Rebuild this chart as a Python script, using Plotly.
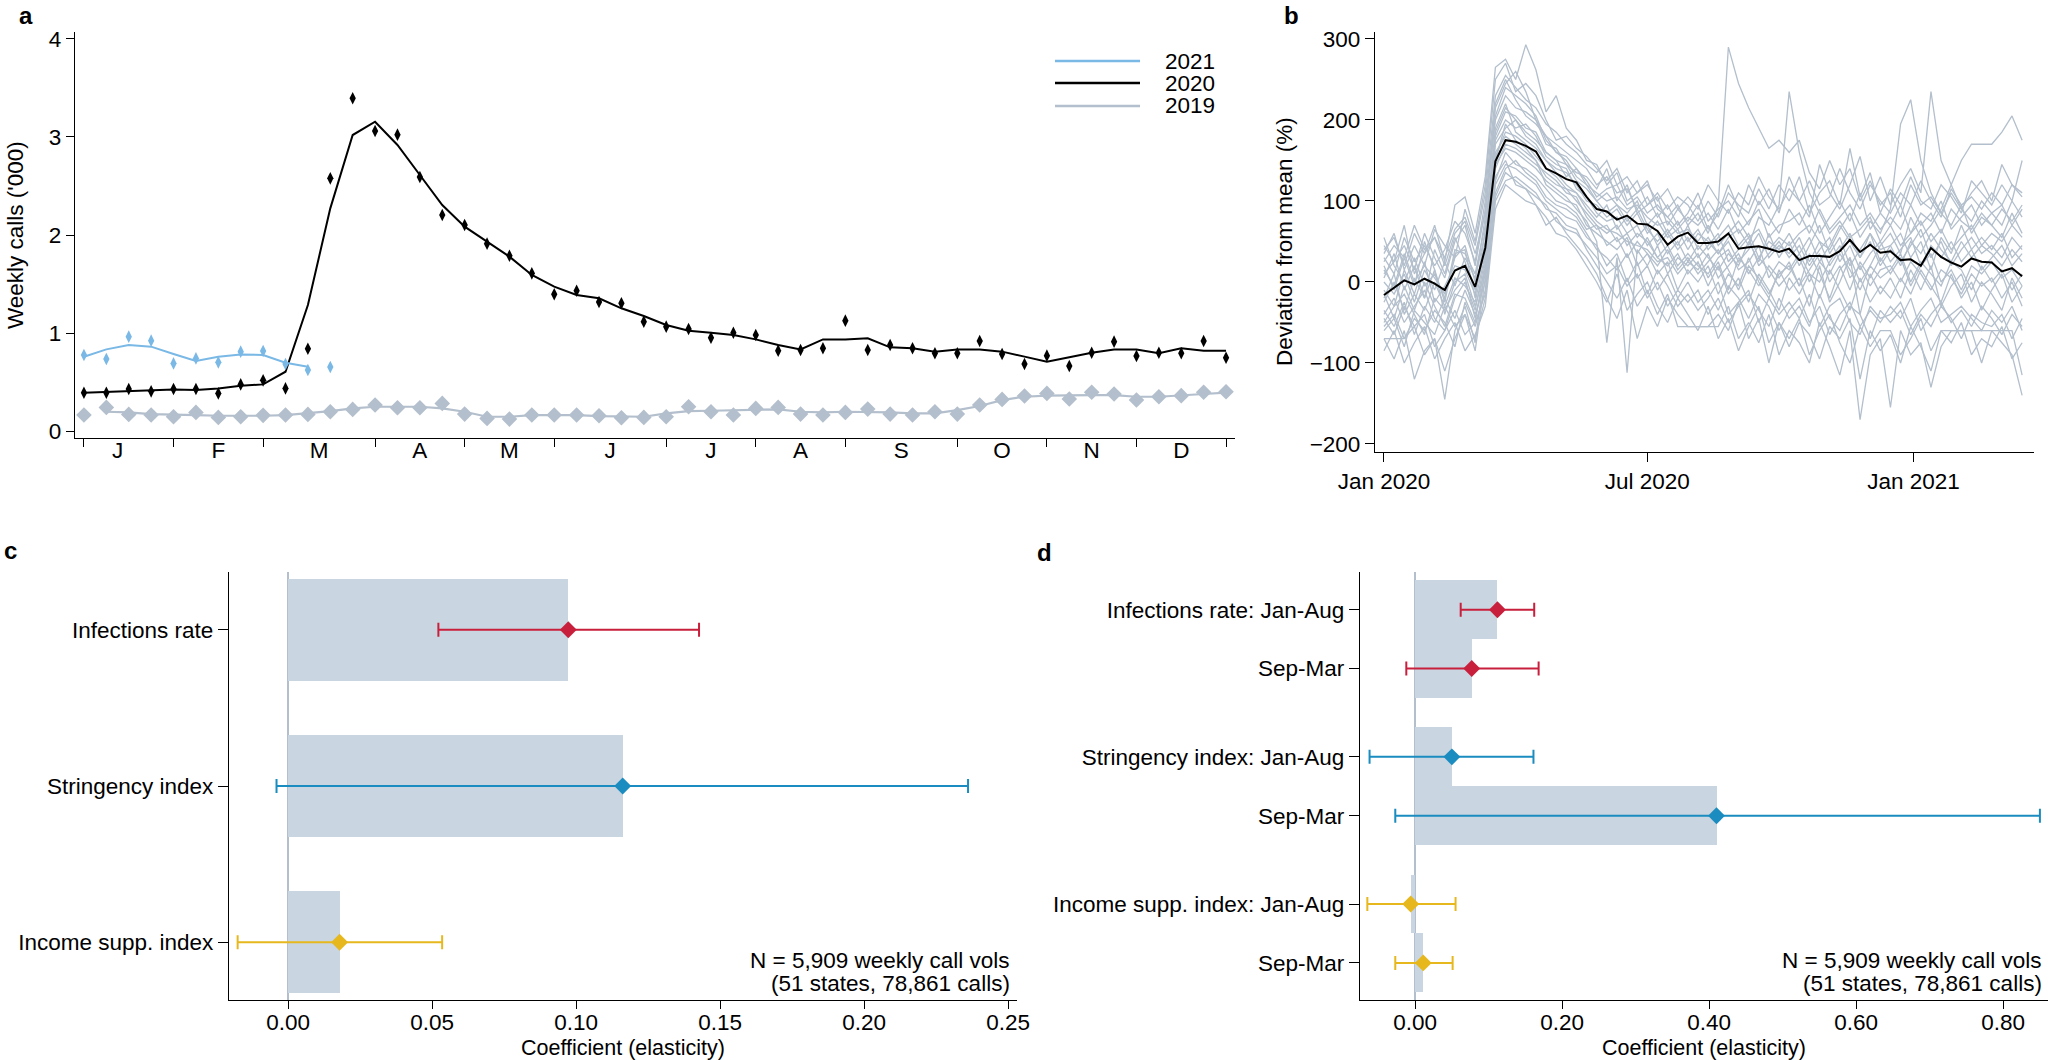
import pandas as pd
import plotly.graph_objects as go

# ---------------- panel a: weekly calls ('000) ----------------
months = ["J", "F", "M", "A", "M", "J", "J", "A", "S", "O", "N", "D"]
month_edges = [0, 4, 8, 13, 17, 21, 26, 30, 34, 39, 43, 47, 51]
month_label_pos = [1.5, 6, 10.5, 15, 19, 23.5, 28, 32, 36.5, 41, 45, 49]

calls_2020 = [0.391, 0.391, 0.429, 0.405, 0.429, 0.429, 0.384, 0.476, 0.517, 0.435,
              0.840, 2.578, 3.395, 3.061, 3.024, 2.592, 2.204, 2.102, 1.912, 1.789,
              1.609, 1.395, 1.432, 1.316, 1.303, 1.116, 1.065, 1.041, 0.952, 1.003,
              0.980, 0.820, 0.827, 0.844, 1.126, 0.827, 0.878, 0.844, 0.793, 0.793,
              0.918, 0.786, 0.684, 0.769, 0.663, 0.799, 0.912, 0.765, 0.799, 0.793,
              0.918, 0.748]
smooth_2020 = [0.391, 0.398, 0.408, 0.418, 0.425, 0.418, 0.435, 0.463, 0.476, 0.605,
               1.286, 2.272, 3.020, 3.156, 2.918, 2.612, 2.306, 2.085, 1.932, 1.779,
               1.592, 1.473, 1.388, 1.354, 1.252, 1.173, 1.082, 1.024, 1.003, 0.980,
               0.935, 0.878, 0.833, 0.935, 0.935, 0.946, 0.854, 0.844, 0.810, 0.833,
               0.833, 0.810, 0.759, 0.707, 0.752, 0.799, 0.833, 0.833, 0.793, 0.844,
               0.820, 0.820]
calls_2021 = [0.776, 0.735, 0.963, 0.922, 0.690, 0.741, 0.701, 0.810, 0.816, 0.684,
              0.622, 0.653]
smooth_2021 = [0.758, 0.833, 0.878, 0.861, 0.786, 0.714, 0.758, 0.782, 0.776, 0.697,
               0.656]
calls_2019 = [0.163, 0.241, 0.170, 0.163, 0.146, 0.190, 0.139, 0.146, 0.160, 0.163,
              0.170, 0.197, 0.221, 0.265, 0.238, 0.238, 0.282, 0.173, 0.129, 0.122,
              0.163, 0.163, 0.163, 0.156, 0.136, 0.139, 0.146, 0.248, 0.197, 0.163,
              0.231, 0.241, 0.173, 0.163, 0.190, 0.224, 0.173, 0.163, 0.197, 0.173,
              0.265, 0.323, 0.357, 0.384, 0.327, 0.395, 0.378, 0.316, 0.350, 0.361,
              0.395, 0.401]
smooth_2019 = [0.197, 0.190, 0.173, 0.170, 0.163, 0.156, 0.153, 0.156, 0.163, 0.180,
               0.204, 0.231, 0.248, 0.248, 0.248, 0.231, 0.197, 0.146, 0.146, 0.163,
               0.163, 0.163, 0.153, 0.146, 0.146, 0.180, 0.204, 0.207, 0.214, 0.221,
               0.221, 0.197, 0.190, 0.197, 0.197, 0.190, 0.180, 0.180, 0.214, 0.255,
               0.316, 0.350, 0.361, 0.367, 0.367, 0.367, 0.350, 0.350, 0.367, 0.378,
               0.391]

# ---------------- panel b: deviation from mean (%) ----------------
mean_dev = [-16, -7, 2, -3, 4, -2, -10, 14, 20, -6,
            42, 149, 175, 173, 168, 161, 140, 134, 127, 123,
            105, 90, 87, 77, 82, 72, 71, 63, 46, 56,
            61, 48, 48, 50, 60, 41, 43, 44, 41, 37,
            41, 27, 32, 32, 31, 38, 52, 37, 46, 36,
            38, 27, 28, 20, 42, 31, 24, 19, 29, 25,
            24, 13, 17, 7]

state_dev = [
    [40, 55, 20, 60, 35, 70, 25, 95, 105, 60, 130, 265, 275, 250, 293, 262, 210, 230, 190, 175,
     150, 145, 120, 135, 100, 110, 125, 90, 80, 95, 70, 85, 60, 95, 290, 245, 215, 190, 165, 175,
     160, 175, 135, 115, 150, 120, 140, 100, 125, 95, 110, 80, 120, 95, 105, 85, 110, 90, 75, 100,
     85, 95, 70, 90],
    [-70, -95, -60, -120, -85, -70, -145, -60, -30, -75, 20, 130, 150, 120, 115, 95, 70, 80, 60, 45,
     30, 10, -20, -45, -10, -70, -30, -55, -20, -40, -55, -55, -55, -55, -30, -70, -50, -75, -40, -90,
     -60, -75, -100, -50, -80, -115, -60, -170, -90, -70, -155, -60, -90, -75, -130, -80, -60, -60, -60, -60,
     -60, -75, -90, -140],
    [10, 25, 45, 15, 60, 30, 5, 50, 70, 20, 90, 200, 230, 215, 210, 200, 180, 170, 160, 150,
     140, 120, 130, 110, 115, 90, 105, 80, 95, 70, 85, 110, 75, 90, 100, 80, 120, 95, 115, 85,
     130, 100, 80, 145, 110, 90, 120, 155, 100, 130, 95, 120, 140, 110, 235, 150, 120, 90, 110, 125,
     100, 145, 120, 110],
    [-40, -20, -50, -30, -10, -45, -60, -20, 0, -35, 30, 160, 180, 170, 160, 150, 120, 110, 100, 95,
     70, 60, 50, 40, 55, 20, 35, 10, 25, -10, 15, 0, 20, -15, 10, -5, 30, 0, -20, 15,
     -10, 5, -30, 20, -25, 0, 30, -40, 10, -15, 5, -20, 15, -10, 20, -30, -5, 10, -25, 0,
     -15, -35, 5, -20],
    [55, 20, 0, 30, -5, 10, -20, 40, 35, 10, 70, 180, 210, 205, 190, 185, 160, 150, 130, 140,
     120, 100, 110, 95, 85, 100, 70, 85, 60, 75, 50, 65, 40, 55, 70, 45, 60, 30, 50, 40,
     60, 35, 55, 25, 45, 70, 50, 30, 60, 40, 45, 20, 50, 35, 60, 40, 25, 50, 30, 45,
     35, 20, 40, 25],
    [-10, -30, 15, -15, 25, -25, -5, 20, 15, -15, 40, 170, 190, 200, 180, 170, 150, 140, 135, 120,
     100, 95, 80, 90, 70, 85, 60, 75, 55, 65, 40, 60, 50, 35, 55, 65, 45, 80, 70, 95,
     235, 160, 110, 85, 60, 75, 55, 65, 80, 50, 70, 45, 60, 75, 50, 65, 40, 55, 70, 45,
     60, 50, 70, 55],
    [-55, -40, -70, -45, -60, -35, -50, -80, -25, -55, -10, 110, 140, 150, 135, 125, 105, 95, 90, 80,
     60, 40, 30, 15, 35, 5, 20, -10, 10, -20, 0, -25, -10, -35, -5, -20, -45, -15, -30, -60,
     -35, -20, -50, -30, -65, -40, -25, -55, -35, -50, -30, -45, -20, -60, -40, -25, -50, -35, -55, -30,
     -45, -65, -40, -55],
    [25, 45, 30, 70, 40, 55, 30, 65, 80, 45, 110, 230, 255, 240, 225, 215, 195, 185, 170, 160,
     145, 135, 150, 120, 130, 110, 120, 100, 115, 90, 105, 90, 120, 100, 85, 110, 95, 130, 105, 90,
     115, 100, 125, 95, 105, 140, 110, 90, 120, 100, 85, 110, 95, 125, 100, 80, 115, 95, 105, 90,
     110, 95, 120, 105],
    [-25, 0, -35, 5, -20, 15, -40, 0, 10, -30, 15, 145, 165, 160, 150, 140, 125, 115, 105, 90,
     75, 50, -75, 30, -112, 40, 20, 45, 10, 30, 20, 35, 5, 25, -10, 30, 15, -5, 20, 5,
     25, -5, 15, 35, 0, 20, -10, 25, 5, 30, 10, 30, -5, 20, 35, 0, 15, -10, 20, 10,
     25, 5, 15, -5],
    [0, -15, 10, -25, 15, -10, 25, -5, 30, 5, 60, 190, 220, 185, 175, 165, 150, 135, 120, 110,
     95, 80, 95, 65, 80, 55, 70, 45, 60, 40, 55, 30, 45, 60, 25, 40, 55, 20, 35, 50,
     30, 45, 20, 40, 55, 25, 45, 15, 35, 50, 25, 40, 55, 20, 45, 30, 50, 25, 40, 15,
     30, 45, 20, 35],
    [-35, -55, -25, -65, -30, -50, -20, -45, -10, -40, 0, 125, 160, 145, 140, 130, 115, 100, 95, 85,
     65, 70, 45, 55, 30, 50, 35, 20, 40, 15, 30, 10, 25, 40, 15, -10, 20, 5, -15, 10,
     20, -5, 35, 10, -20, 15, 30, 0, 20, 45, 60, 35, 80, 55, 70, 90, 120, 150, 170, 170,
     170, 185, 205, 175],
    [-70, -70, -70, -55, -90, -70, -110, -70, -40, -70, -20, 100, 125, 130, 120, 110, 90, 85, 70, 65,
     40, 20, 0, -20, 5, -30, -10, -40, -15, -55, -55, -55, -55, -40, -60, -25, -70, -45, -100, -50,
     -70, -45, -90, -60, -40, -75, -100, -55, -80, -60, -60, -90, -70, -45, -85, -60, -60, -60, -60, -100,
     -60, -60, -60, -115],
    [15, -5, 35, 0, 20, 5, -15, 30, 45, 0, 80, 205, 240, 230, 220, 205, 175, 160, 150, 130,
     120, 110, 100, 105, 90, 95, 80, 70, 75, 60, 65, 50, 70, 45, 60, 75, 55, 65, 40, 55,
     45, 60, 70, 50, 40, 65, 85, 55, 75, 60, 90, 195, 225, 150, 110, 85, 70, 95, 60, 80,
     70, 55, 85, 60],
    [-50, -30, -15, -40, -65, -20, -35, -10, 5, -45, 10, 150, 195, 175, 165, 150, 130, 120, 115, 100,
     85, 70, 60, 70, 45, 60, 50, 30, 45, 20, 35, 20, 10, 30, 40, 15, 25, 45, 5, 25,
     15, 35, 10, 0, 25, 45, 5, 20, -5, 15, 20, 0, 25, 10, -10, 15, 5, -15, 10, -5,
     5, -20, 0, -30],
    [30, 10, 55, 25, 45, 20, 40, 75, 60, 25, 100, 215, 245, 260, 235, 200, 170, 165, 145, 135,
     130, 115, 140, 100, 120, 85, 95, 105, 70, 90, 75, 95, 65, 85, 120, 90, 70, 100, 80, 60,
     90, 70, 95, 60, 80, 100, 75, 110, 65, 85, 70, 95, 60, 85, 75, 100, 65, 80, 95, 70,
     85, 70, 100, 80],
    [-85, -60, -100, -75, -55, -95, -70, -50, -85, -65, -30, 90, 120, 110, 100, 95, 80, 60, 55, 40,
     20, 0, -25, 10, -35, -15, 0, -30, -50, -20, -40, -60, -30, -70, -45, -85, -55, -30, -75, -50,
     -80, -50, -65, -95, -55, -70, -45, -120, -60, -85, -65, -100, -55, -80, -110, -60, -75, -50, -90, -70,
     -80, -55, -95, -75],
    [5, 35, -10, 20, -20, 40, 10, 55, 25, -10, 50, 175, 200, 190, 195, 180, 155, 145, 140, 115,
     105, 85, 75, 80, 60, 70, 45, 60, 35, 50, 25, 45, 30, 15, 35, 20, 50, 25, 60, 30,
     50, 20, 45, 70, 35, 55, 20, 40, 60, 25, 45, 60, 30, 50, 15, 55, 35, 70, 40, 55,
     40, 60, 30, 45],
    [-15, -45, -5, -35, 0, -30, -55, -15, -20, -50, 25, 140, 170, 165, 155, 145, 135, 125, 110, 105,
     80, 65, 70, 50, 60, 35, 55, 30, 20, 35, 10, 25, -5, 20, -15, 5, -25, 10, -10, -35,
     5, -15, 10, -20, 15, -10, -35, 5, -25, -5, -20, 5, -15, 15, -5, -25, 10, -20, 0, -35,
     -10, 10, -25, -5],
    [20, -10, 30, -5, 50, 15, -25, 35, 40, -20, 65, 185, 215, 200, 185, 175, 160, 150, 145, 125,
     115, 100, 85, 95, 75, 90, 65, 50, 65, 45, 70, 40, 55, 35, 50, 25, 40, 60, 30, 45,
     35, 55, 25, 50, 20, 40, 60, 30, 50, 20, 40, 25, 45, 65, 30, 50, 20, 40, 55, 35,
     45, 30, 55, 40],
    [-60, -45, -80, -35, -50, -65, -30, -55, -40, -85, 5, 120, 145, 140, 130, 120, 100, 90, 80, 75,
     55, 45, 20, 35, 0, 25, -15, 15, -5, -30, -15, -35, -20, 0, -40, -25, -10, -50, -20, -40,
     -25, -45, -15, -55, -30, -20, -50, -65, -30, -45, -40, -25, -55, -35, -20, -50, -40, -30, -45, -60,
     -35, -50, -30, -60],
    [35, 60, 15, 45, 20, 65, 45, 30, 90, 50, 120, 250, 270, 235, 245, 230, 200, 175, 180, 165,
     155, 140, 125, 140, 110, 125, 95, 110, 90, 105, 95, 75, 100, 80, 110, 95, 85, 115, 90, 120,
     100, 130, 85, 110, 125, 95, 165, 105, 135, 85, 115, 95, 130, 100, 90, 120, 105, 85, 125, 110,
     95, 120, 100, 150],
    [-20, 10, -40, -15, -35, 0, -30, 5, -5, -25, 35, 155, 185, 180, 170, 155, 140, 130, 115, 110,
     90, 75, 65, 60, 50, 45, 40, 25, 30, 10, 25, 15, 35, 5, 20, 35, 10, 30, 15, -5,
     10, 30, 0, 25, 10, 35, 15, -10, 20, 5, 15, 35, 0, 25, 10, -5, 25, 15, -10, 20,
     0, 15, -10, 10],
    [45, 25, 70, 10, 35, 55, 20, 60, 75, 35, 85, 220, 250, 225, 205, 195, 180, 160, 155, 140,
     125, 105, 115, 120, 95, 105, 85, 95, 80, 65, 80, 70, 85, 65, 90, 60, 75, 90, 55, 70,
     75, 85, 60, 90, 65, 80, 95, 70, 85, 65, 80, 65, 95, 70, 85, 60, 90, 75, 65, 85,
     70, 90, 75, 95],
    [-45, -65, -30, -55, -40, -80, -60, -35, -65, -50, -15, 105, 135, 125, 115, 105, 95, 75, 65, 60,
     45, 30, 10, 20, -5, 10, -20, 0, -30, -10, -25, -10, -40, -20, -50, -30, -15, -35, -55, -20,
     -45, -30, -55, -15, -45, -60, -30, -40, -70, -35, -50, -35, -65, -40, -55, -30, -45, -70, -40, -50,
     -55, -40, -70, -45],
]
week_dates = pd.date_range("2020-01-01", periods=len(mean_dev), freq="7D")

# ---------------- panels c, d: coefficients ----------------
c_labels = ["Infections rate", "Stringency index", "Income supp. index"]
c_coef = [0.0973, 0.1162, 0.0179]
c_low = [0.0522, -0.0040, -0.0175]
c_high = [0.1427, 0.2361, 0.0535]

d_labels = ["Infections rate: Jan-Aug", "Sep-Mar", "Stringency index: Jan-Aug", "Sep-Mar",
            "Income supp. index: Jan-Aug", "Sep-Mar"]
d_pos = [0, 1, 2.5, 3.5, 5, 6]
d_coef = [0.112, 0.077, 0.050, 0.410, -0.006, 0.011]
d_low = [0.062, -0.012, -0.062, -0.027, -0.065, -0.027]
d_high = [0.162, 0.168, 0.161, 0.850, 0.055, 0.051]

var_colors = ["#c8203c", "#1a8cbf", "#e6b81e"]
note_lines = ["N = 5,909 weekly call vols", "(51 states, 78,861 calls)"]

W, H = 2050, 1060
FONT = "Liberation Sans, Arial, Helvetica, sans-serif"
FS = 22.5
BLUE21, GREY = "#7ab8e6", "#b3bfcc"


def px(x):
    return x / W


def py(y):
    return 1 - y / H


fig = go.Figure()

# panel a
weeks = list(range(52))
fig.add_trace(go.Scatter(x=weeks[1:], y=smooth_2019, mode="lines",
                         line=dict(color=GREY, width=2.2), xaxis="x", yaxis="y"))
fig.add_trace(go.Scatter(x=weeks, y=calls_2019, mode="markers",
                         marker=dict(symbol="diamond", size=12, color=GREY), xaxis="x", yaxis="y"))
fig.add_trace(go.Scatter(x=weeks, y=smooth_2020, mode="lines",
                         line=dict(color="black", width=2), xaxis="x", yaxis="y"))
fig.add_trace(go.Scatter(x=weeks, y=calls_2020, mode="markers",
                         marker=dict(symbol="diamond-tall", size=9, color="black"), xaxis="x", yaxis="y"))
fig.add_trace(go.Scatter(x=weeks[:len(smooth_2021)], y=smooth_2021, mode="lines",
                         line=dict(color=BLUE21, width=2), xaxis="x", yaxis="y"))
fig.add_trace(go.Scatter(x=weeks[:len(calls_2021)], y=calls_2021, mode="markers",
                         marker=dict(symbol="diamond-tall", size=9, color=BLUE21), xaxis="x", yaxis="y"))
# invisible carrier for the month-label axis
fig.add_trace(go.Scatter(x=[month_edges[0], month_edges[-1]], y=[0, 0], mode="markers",
                         marker=dict(opacity=0), hoverinfo="skip", xaxis="x5", yaxis="y"))

# panel b
for s in state_dev:
    fig.add_trace(go.Scatter(x=week_dates, y=s, mode="lines",
                             line=dict(color=GREY, width=1.3), xaxis="x2", yaxis="y2"))
fig.add_trace(go.Scatter(x=week_dates, y=mean_dev, mode="lines",
                         line=dict(color="black", width=2), xaxis="x2", yaxis="y2"))

# panel c
fig.add_trace(go.Bar(x=c_coef, y=[0, 1, 2], orientation="h", width=0.65,
                     marker=dict(color="#c9d5e0", line=dict(width=0)), xaxis="x3", yaxis="y3"))
for i in range(3):
    fig.add_trace(go.Scatter(
        x=[c_coef[i]], y=[i], mode="markers", xaxis="x3", yaxis="y3",
        marker=dict(symbol="diamond", size=13, color=var_colors[i]),
        error_x=dict(type="data", symmetric=False, array=[c_high[i] - c_coef[i]],
                     arrayminus=[c_coef[i] - c_low[i]], color=var_colors[i], thickness=2, width=7)))

# panel d
fig.add_trace(go.Bar(x=d_coef, y=d_pos, orientation="h", width=1.0,
                     marker=dict(color="#c9d5e0", line=dict(width=0)), xaxis="x4", yaxis="y4"))
for i in range(6):
    col = var_colors[i // 2]
    fig.add_trace(go.Scatter(
        x=[d_coef[i]], y=[d_pos[i]], mode="markers", xaxis="x4", yaxis="y4",
        marker=dict(symbol="diamond", size=13, color=col),
        error_x=dict(type="data", symmetric=False, array=[d_high[i] - d_coef[i]],
                     arrayminus=[d_coef[i] - d_low[i]], color=col, thickness=2, width=7)))

axis_common = dict(showgrid=False, zeroline=False, showline=True, linecolor="black", linewidth=1.3,
                   ticks="outside", tickcolor="black", tickwidth=1.2, automargin=False,
                   tickfont=dict(size=FS, color="black", family=FONT))

fig.update_layout(
    width=W, height=H, margin=dict(l=0, r=0, t=0, b=0),
    paper_bgcolor="white", plot_bgcolor="white", showlegend=False,
    font=dict(family=FONT, size=FS, color="black"), bargap=0,
    xaxis=dict(axis_common, domain=[px(75), px(1235)], range=[-0.4, 51.4], anchor="y",
               tickvals=month_edges, ticklen=8, showticklabels=False),
    xaxis5=dict(overlaying="x", anchor="y", range=[-0.4, 51.4], showgrid=False, zeroline=False,
                showline=False, ticks="", tickvals=month_label_pos, ticktext=months, automargin=False,
                ticklabelstandoff=-4, tickfont=dict(size=FS, color="black", family=FONT)),
    yaxis=dict(axis_common, domain=[py(438), py(32)], range=[-0.071, 4.071], anchor="x",
               tickvals=[0, 1, 2, 3, 4], ticklen=8),
    xaxis2=dict(axis_common, domain=[px(1375), px(2034)], type="date",
                range=["2019-12-25 19:00", "2021-03-25 05:00"], anchor="y2",
                tickvals=["2020-01-01", "2020-07-01", "2021-01-01"],
                ticktext=["Jan 2020", "Jul 2020", "Jan 2021"], ticklen=9),
    yaxis2=dict(axis_common, domain=[py(452), py(32)], range=[-209.9, 308.6], anchor="x2",
                tickvals=[-200, -100, 0, 100, 200, 300], ticklen=9),
    xaxis3=dict(axis_common, domain=[px(229), px(1017)], range=[-0.0205, 0.2531], anchor="y3",
                tickvals=[0, 0.05, 0.10, 0.15, 0.20, 0.25], tickformat=".2f", ticklen=8,
                ticklabelstandoff=-6, zeroline=True, zerolinecolor=GREY, zerolinewidth=1.5),
    yaxis3=dict(axis_common, domain=[py(1000), py(572)], range=[2.37, -0.37], anchor="x3",
                tickvals=[0, 1, 2], ticktext=c_labels, ticklen=10),
    xaxis4=dict(axis_common, domain=[px(1360), px(2048)], range=[-0.075, 0.861], anchor="y4",
                tickvals=[0, 0.2, 0.4, 0.6, 0.8], tickformat=".2f", ticklen=8,
                ticklabelstandoff=-6, zeroline=True, zerolinecolor=GREY, zerolinewidth=1.5),
    yaxis4=dict(axis_common, domain=[py(1000), py(572)], range=[6.63, -0.64], anchor="x4",
                tickvals=d_pos, ticktext=d_labels, ticklen=10),
)


def note(text, x, y, xanchor="center", yanchor="middle", size=FS, angle=0):
    return dict(text=text, x=px(x), y=py(y), xref="paper", yref="paper", xanchor=xanchor,
                yanchor=yanchor, textangle=angle, showarrow=False, font=dict(size=size))


ann = []
for lab, x, y in [("a", 26, 0), ("b", 1291, 0)]:
    ann.append(note("<b>%s</b>" % lab, x, y, yanchor="top", size=24))
for lab, x, y in [("c", 10, 550), ("d", 1044, 552)]:
    ann.append(note("<b>%s</b>" % lab, x, y, size=24))
ann.append(note("Weekly calls ('000)", 15, 235, angle=-90))
ann.append(note("Deviation from mean (%)", 1284, 242, angle=-90))
for xc in [623, 1704]:
    ann.append(note("Coefficient (elasticity)", xc, 1048, size=21.5))
for xr in [1012, 2044]:
    ann.append(note(note_lines[0], xr, 960, xanchor="right", size=22.5))
    ann.append(note(note_lines[1], xr, 983, xanchor="right", size=22.5))

# legend of panel a
shapes = []
for name, col, yy in [("2021", BLUE21, 61), ("2020", "black", 83), ("2019", GREY, 106)]:
    shapes.append(dict(type="line", xref="paper", yref="paper", x0=px(1055), x1=px(1140),
                       y0=py(yy), y1=py(yy), line=dict(color=col, width=2.5)))
    ann.append(note(name, 1163, yy, xanchor="left"))

fig.update_layout(annotations=ann, shapes=shapes)
fig.write_html("out.html", config={"displayModeBar": False},
               post_script="document.body.style.margin='0';")
